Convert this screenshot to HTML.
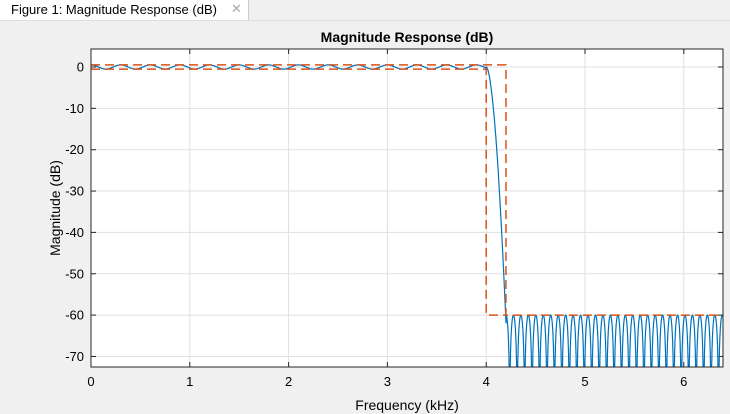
<!DOCTYPE html>
<html><head><meta charset="utf-8"><style>
body{margin:0;width:730px;height:414px;background:#f0f0f0;font-family:"Liberation Sans",Arial,sans-serif;overflow:hidden;position:relative}
.tab{position:absolute;left:0;top:0;width:248px;height:20px;background:#fff;border-right:1px solid #ccc;font-size:13px;color:#000}
</style></head><body>
<div class="tab"><span style="position:absolute;left:11px;top:2px">Figure 1: Magnitude Response (dB)</span><span style="position:absolute;left:231px;top:1px;color:#aaa;font-size:13px">✕</span></div>
<div style="position:absolute;left:0;top:20px;width:730px;height:1px;background:#ddd"></div>
<svg id="s" width="730" height="414" style="position:absolute;left:0;top:0" font-family="Liberation Sans, Arial, sans-serif"></svg>
<script>
const X0=91,X1=723,Y0=49,Y1=367;
const px=f=>X0+f*98.8, py=d=>67-d*4.135;
let h='<rect x="91" y="49" width="632" height="318" fill="#fff"/>';
for(let i=0;i<=6;i++){let x=px(i);h+=`<line x1="${x}" y1="${Y0}" x2="${x}" y2="${Y1}" stroke="#dfdfdf"/><text x="${x}" y="386" font-size="13" text-anchor="middle">${i}</text><line x1="${x}" y1="${Y1}" x2="${x}" y2="${Y1-5}" stroke="#262626"/><line x1="${x}" y1="${Y0}" x2="${x}" y2="${Y0+5}" stroke="#262626"/>`;}
for(let d=0;d>=-70;d-=10){let y=py(d);h+=`<line x1="${X0}" y1="${y}" x2="${X1}" y2="${y}" stroke="#dfdfdf"/><text x="84" y="${y+4.5}" font-size="13" text-anchor="end">${d}</text><line x1="${X0}" y1="${y}" x2="${X0+5}" y2="${y}" stroke="#262626"/><line x1="${X1}" y1="${y}" x2="${X1-5}" y2="${y}" stroke="#262626"/>`;}
let p=[];
for(let f=0;f<=4.0;f+=0.004){p.push([f,0.5*Math.cos(2*Math.PI*f/0.3)]);}
for(let f=4.0;f<=4.2;f+=0.002){let t=(f-4)/0.2;p.push([f,-62*Math.pow(t,1.8)]);}
let pts=p.map(a=>`${px(a[0]).toFixed(1)},${py(a[1]).toFixed(1)}`).join(' ');
let sb='';
for(let f=4.2;f<=6.4;f+=0.0008){let c=Math.abs(Math.cos(Math.PI*(f-4.2)/0.0755));let d=-60+20*Math.log10(Math.max(c,1e-4));d=Math.max(d,-75);sb+=`${px(f).toFixed(1)},${py(d).toFixed(1)} `;}
h+=`<clipPath id="c"><rect x="91" y="49" width="632" height="318"/></clipPath><g clip-path="url(#c)">`;
h+=`<polyline points="${pts} ${sb}" fill="none" stroke="#0072bd" stroke-width="1.2"/>`;
const r='stroke="#d95319" stroke-width="1.5" stroke-dasharray="9,5" fill="none"';
h+=`<polyline points="${px(0)},${py(0.5)} ${px(4.2)},${py(0.5)} ${px(4.2)},${py(-60)} ${px(6.4)},${py(-60)}" ${r}/>`;
h+=`<polyline points="${px(0)},${py(-0.5)} ${px(4)},${py(-0.5)} ${px(4)},${py(-60)} ${px(4.2)},${py(-60)}" ${r}/>`;
h+=`</g><rect x="91" y="49" width="632" height="318" fill="none" stroke="#262626"/>`;
h+=`<text x="407" y="42" font-size="14" font-weight="bold" text-anchor="middle">Magnitude Response (dB)</text>`;
h+=`<text x="407" y="410" font-size="14" text-anchor="middle">Frequency (kHz)</text>`;
h+=`<text transform="translate(60,208) rotate(-90)" font-size="14" text-anchor="middle">Magnitude (dB)</text>`;
document.getElementById('s').innerHTML=h;
</script>
</body></html>
